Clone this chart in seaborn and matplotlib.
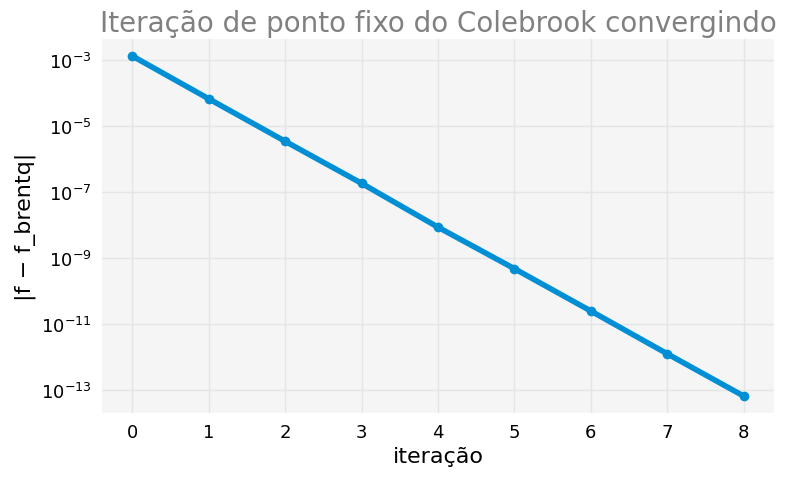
import numpy as np
import pandas as pd
import seaborn as sns
import matplotlib
matplotlib.use("Agg")
import matplotlib.pyplot as plt

# dados
iteracoes = [0, 1, 2, 3, 4, 5, 6, 7, 8]
erros = [1.35e-3, 6.8e-5, 3.5e-6, 1.86e-7, 8.7e-9, 4.8e-10, 2.5e-11, 1.26e-12, 6.6e-14]

data = pd.DataFrame({"iteracao": iteracoes, "erro": erros})

sns.set_style("whitegrid", {
    "axes.facecolor": "#f5f5f5",
    "grid.color": "#e5e5e5",
    "axes.edgecolor": "#f5f5f5",
})
plt.rcParams["font.family"] = ["DejaVu Sans"]

fig, ax = plt.subplots(figsize=(8, 4.81), dpi=100)
fig.patch.set_facecolor("white")
sns.lineplot(data=data, x="iteracao", y="erro", color="#008fd5",
             linewidth=4, marker="o", markersize=7, markeredgewidth=0, ax=ax)
ax.set_yscale("log")
ax.set_xticks(iteracoes)
ax.set_title("Iteração de ponto fixo do Colebrook convergindo",
             fontsize=20, color="#808080", pad=6)
ax.set_xlabel("iteração", fontsize=16, color="black")
ax.set_ylabel("|f − f_brentq|", fontsize=16, color="black")
ax.tick_params(labelsize=13, length=0, colors="black", pad=7)
ax.minorticks_off()
ax.set_yticks([1e-3, 1e-5, 1e-7, 1e-9, 1e-11, 1e-13])
for s in ax.spines.values():
    s.set_visible(False)
ax.grid(True, linewidth=1)

plt.subplots_adjust(left=0.127, right=0.968, top=0.917, bottom=0.139)
plt.savefig("out.png")
